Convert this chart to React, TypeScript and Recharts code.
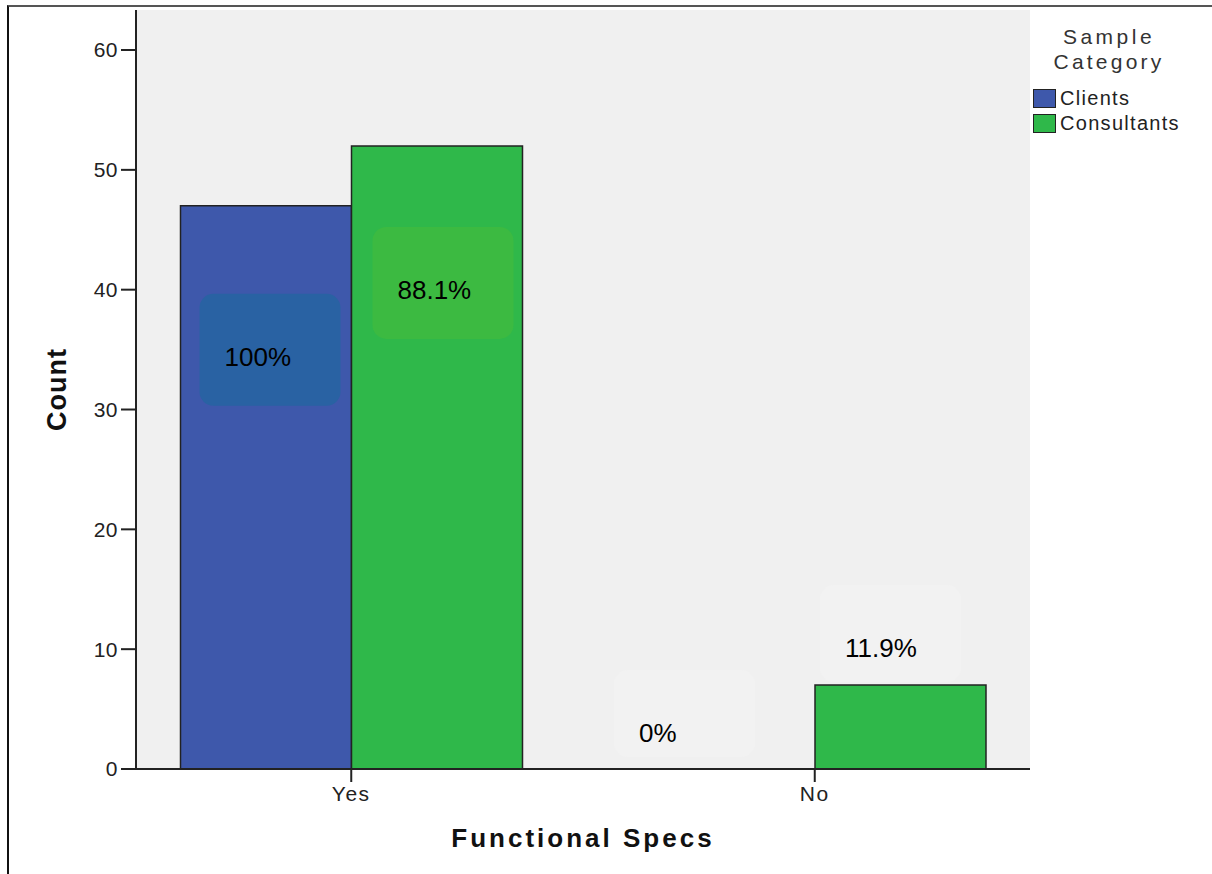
import { BarChart, Bar, XAxis, YAxis, CartesianGrid, Legend, LabelList } from 'recharts';

const categories = ['Yes', 'No'];
const clientCounts = [47, 0];
const consultantCounts = [52, 7];
const clientPct = ['100%', '0%'];
const consultantPct = ['88.1%', '11.9%'];
const yTicks = [0, 10, 20, 30, 40, 50, 60];

const rows = categories.map((cat, i) => ({
    cat,
    clients: clientCounts[i],
    consultants: consultantCounts[i],
    clientsPct: clientPct[i],
    consultantsPct: consultantPct[i]
}));

const FONT = '"Liberation Sans", Arial, sans-serif';
const BLUE = '#3E58AB';
const GREEN = '#2FB84A';

// where each percentage box sits, relative to its bar's left edge and top
const clientBoxes = [
    { dx: 19, dy: 88, h: 112, fill: '#2962A3' },
    { dx: -30, dy: -99, h: 87, fill: '#F2F2F2' }
];
const consultantBoxes = [
    { dx: 21, dy: 81, h: 112, fill: '#3CBA41' },
    { dx: 5, dy: -100, h: 97, fill: '#F2F2F2' }
];

type Box = { dx: number; dy: number; h: number; fill: string };

const PctBox = ({ x, y, box, text }: { x: number; y: number; box: Box; text: string }) => {
    const bx = x + box.dx;
    const by = y + box.dy;
    return (
        <g>
            <rect x={bx} y={by} width={141} height={box.h} rx={14} ry={14} fill={box.fill} />
            <text x={bx + 25} y={by + 72} fontSize={26} fontFamily={FONT} fill="#000">
                {text}
            </text>
        </g>
    );
};

const geom = (props: any) => {
    const vb = props.viewBox || {};
    return {
        x: Number(props.x ?? vb.x),
        y: Number(props.y ?? vb.y),
        width: Number(props.width ?? vb.width),
        height: Number(props.height ?? vb.height)
    };
};

// clients: zero-height bars get their label from the consultants' pass below
const clientLabel = (props: any) => {
    const i = props.index;
    if (!clientCounts[i]) return null;
    const { x, y } = geom(props);
    return <PctBox x={x} y={y} box={clientBoxes[i]} text={clientPct[i]} />;
};

const consultantLabel = (props: any) => {
    const i = props.index;
    const { x, y, width, height } = geom(props);
    return (
        <g>
            <PctBox x={x} y={y} box={consultantBoxes[i]} text={consultantPct[i]} />
            {!clientCounts[i] && (
                <PctBox x={x - width} y={y + height} box={clientBoxes[i]} text={clientPct[i]} />
            )}
        </g>
    );
};

const LegendBox = () => (
    <div style={{ fontFamily: FONT, color: '#333' }}>
        <div style={{ textAlign: 'center', fontSize: 21, lineHeight: '25px', letterSpacing: 3.5, width: 158 }}>
            Sample
        </div>
        <div style={{ textAlign: 'center', fontSize: 21, lineHeight: '25px', letterSpacing: 3.2, width: 158 }}>
            Category
        </div>
        {[
            { name: 'Clients', color: BLUE },
            { name: 'Consultants', color: GREEN }
        ].map((it, i) => (
            <div
                key={it.name}
                style={{ display: 'flex', alignItems: 'center', height: 25, marginTop: i === 0 ? 12 : 0 }}
            >
                <span
                    style={{
                        display: 'inline-block',
                        width: 21,
                        height: 17,
                        background: it.color,
                        border: '1.5px solid #222',
                        marginLeft: 3,
                        marginRight: 4
                    }}
                />
                <span style={{ fontSize: 20, letterSpacing: 1.3, color: '#222' }}>{it.name}</span>
            </div>
        ))}
    </div>
);

const App = () => {
    return (
        <div
            style={{
                position: 'fixed',
                left: 0,
                top: 0,
                width: 1212,
                height: 874,
                overflow: 'hidden',
                background: '#fff'
            }}
        >
            {/* outer frame */}
            <div
                style={{
                    position: 'absolute',
                    left: 7,
                    top: 5,
                    width: 1220,
                    height: 880,
                    borderTop: '2px solid #555',
                    borderLeft: '2px solid #111'
                }}
            />
            <div style={{ position: 'absolute', left: 0, top: 0 }}>
                <BarChart
                    width={1212}
                    height={874}
                    data={rows}
                    barGap={0}
                    barSize={171}
                    margin={{ top: 10, right: 182, left: 0, bottom: 0 }}
                >
                    {/* grey plot background */}
                    <CartesianGrid horizontal={false} vertical={false} fill="#F0F0F0" />

                    <XAxis
                        dataKey="cat"
                        height={105}
                        padding={{ left: -16.5, right: -16.5 }}
                        axisLine={{ stroke: '#222', strokeWidth: 2 }}
                        tickLine={{ stroke: '#222', strokeWidth: 2 }}
                        tickSize={13}
                        tickMargin={4}
                        tick={{ fontSize: 21, fill: '#222', fontFamily: FONT, letterSpacing: 1.5 }}
                        label={{
                            content: (p: any) => {
                                const vb = p.viewBox || {};
                                return (
                                    <text
                                        x={vb.x + vb.width / 2}
                                        y={847}
                                        textAnchor="middle"
                                        fontSize={26}
                                        fontWeight="bold"
                                        fontFamily={FONT}
                                        letterSpacing={3}
                                        fill="#111"
                                    >
                                        Functional Specs
                                    </text>
                                );
                            }
                        }}
                    />
                    {/* top border of the plot frame */}
                    <XAxis
                        xAxisId="top"
                        dataKey="cat"
                        orientation="top"
                        height={0}
                        tick={false}
                        tickLine={false}
                        axisLine={{ stroke: '#555', strokeWidth: 2 }}
                    />

                    <YAxis
                        width={136}
                        domain={[0, 63.34]}
                        ticks={yTicks}
                        interval={0}
                        axisLine={{ stroke: '#222', strokeWidth: 2 }}
                        tickLine={{ stroke: '#222', strokeWidth: 2 }}
                        tickSize={15}
                        tickMargin={3}
                        tick={{ fontSize: 21, fill: '#222', fontFamily: FONT, letterSpacing: 0.5 }}
                        label={{
                            content: (p: any) => {
                                const vb = p.viewBox || {};
                                const cy = vb.y + vb.height / 2;
                                return (
                                    <text
                                        x={57}
                                        y={cy}
                                        transform={`rotate(-90, 57, ${cy})`}
                                        textAnchor="middle"
                                        dominantBaseline="central"
                                        fontSize={27}
                                        fontWeight="bold"
                                        fontFamily={FONT}
                                        letterSpacing={1}
                                        fill="#111"
                                    >
                                        Count
                                    </text>
                                );
                            }
                        }}
                    />
                    {/* right border of the plot frame */}
                    <YAxis
                        yAxisId="right"
                        orientation="right"
                        width={0}
                        domain={[0, 63.34]}
                        tick={false}
                        tickLine={false}
                        axisLine={{ stroke: '#333', strokeWidth: 2 }}
                    />

                    <Legend
                        layout="vertical"
                        align="center"
                        verticalAlign="middle"
                        wrapperStyle={{ left: 1030, top: 24, width: 182 }}
                        content={() => <LegendBox />}
                    />

                    <Bar dataKey="clients" name="Clients" fill={BLUE} stroke="#222" strokeWidth={1.5} isAnimationActive={false}>
                        <LabelList dataKey="clientsPct" content={clientLabel} />
                    </Bar>
                    <Bar dataKey="consultants" name="Consultants" fill={GREEN} stroke="#222" strokeWidth={1.5} isAnimationActive={false}>
                        <LabelList dataKey="consultantsPct" content={consultantLabel} />
                    </Bar>
                </BarChart>
            </div>
        </div>
    );
};

export default App;
